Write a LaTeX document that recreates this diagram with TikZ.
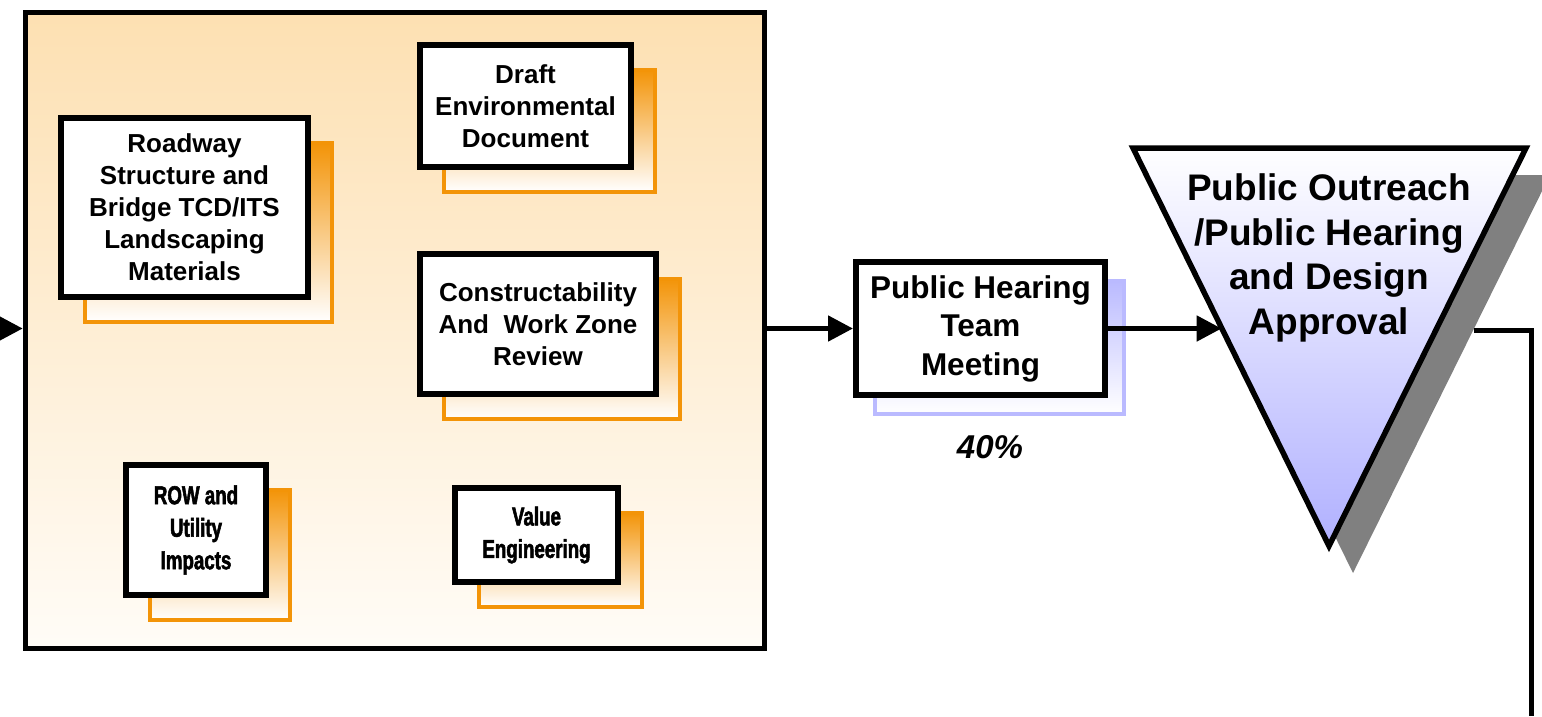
\documentclass[tikz,border=0pt]{standalone}
\usepackage{fontspec}
\setmainfont{Liberation Sans}
\newfontfamily\narrowfont[FakeStretch=0.72,BoldFeatures={FakeBold=2}]{Liberation Sans}
\usetikzlibrary{arrows.meta,shadows,calc}
\definecolor{panel_top}{RGB}{253,224,178}
\definecolor{panel_bottom}{RGB}{255,252,247}
\definecolor{shadow_orange}{RGB}{243,148,8}
\definecolor{shadow_blue}{RGB}{186,186,255}
\definecolor{tri_blue}{RGB}{176,176,255}
\definecolor{tri_gray}{RGB}{128,128,128}
\begin{document}
\begin{tikzpicture}[x=1pt,y=-1pt]
        \tikzstyle{box_style} = [draw=black,line width=6pt,fill=white,inner sep=0pt,align=center,font=\bfseries\fontsize{26}{32}\selectfont]
        \tikzstyle{narrow_style} = [box_style,font=\narrowfont\bfseries\fontsize{26}{32.5}\selectfont]
        \tikzstyle{orange_shadow} = [general shadow={shadow xshift=24pt,shadow yshift=-25pt,draw=shadow_orange,line width=4pt,top color=shadow_orange,bottom color=white}]
        \tikzstyle{blue_shadow} = [general shadow={shadow xshift=19pt,shadow yshift=-19pt,draw=shadow_blue,line width=4.5pt,top color=shadow_blue,bottom color=white}]
        \tikzstyle{conn} = [line width=5pt,-{Triangle[length=25pt,width=25pt]}]
        \useasboundingbox (0,0) rectangle (1542,716);

        % design work panel
        \node[draw=black,line width=5.5pt,top color=panel_top,bottom color=panel_bottom,minimum width=739pt,minimum height=636pt,inner sep=0pt] (panel) at (395,330.5) {};
        \node[box_style,orange_shadow,minimum width=247pt,minimum height=179pt] (roadway) at (184.5,207.5) {Roadway\\Structure and\\Bridge TCD/ITS\\Landscaping\\Materials};
        \node[box_style,orange_shadow,minimum width=211pt,minimum height=122pt] (draft) at (525.5,106) {Draft\\Environmental\\Document};
        \node[box_style,orange_shadow,minimum width=236pt,minimum height=140pt] (review) at (538,324) {Constructability\\And\ \ Work Zone\\Review};
        \node[narrow_style,orange_shadow,minimum width=140pt,minimum height=130pt] (row) at (196,530) {ROW and\\Utility\\Impacts};
        \node[narrow_style,orange_shadow,minimum width=163pt,minimum height=94pt] (value) at (536.5,535) {Value\\Engineering};

        % hearing
        \node[box_style,blue_shadow,font=\bfseries\fontsize{31.5}{38.5}\selectfont,minimum width=249pt,minimum height=133pt] (hearing) at (980.5,328.5) {Public Hearing\\Team\\Meeting};
        \node[font=\bfseries\itshape\fontsize{33}{40}\selectfont] (percent) at (990,447) {40\%};

        % approval triangle
        \coordinate (tri_nw) at (1133,148);
        \coordinate (tri_ne) at (1526,148);
        \coordinate (tri_s) at (1329,546);
        \fill[tri_gray] ($(tri_nw)+(24,27)$) -- ($(tri_ne)+(24,27)$) -- ($(tri_s)+(24,27)$) -- cycle;
        \draw[line width=5.5pt,top color=white,bottom color=tri_blue] (tri_nw) -- (tri_ne) -- (tri_s) -- cycle;
        \node[font=\bfseries\fontsize{37}{44.7}\selectfont,align=center] (approval) at (1329,258) {Public Outreach\\/Public Hearing\\and Design\\Approval};

        % connectors
        \coordinate (feed) at (0,328.5);
        \coordinate (tri_in) at ($(tri_nw)!0.452!(tri_s)$);
        \coordinate (tri_out) at (1474,330);
        \coordinate (down_end) at (1531,716);
        \draw[conn] (feed) -- (feed -| panel.west);
        \draw[conn] (panel.east |- hearing.west) -- (hearing.west);
        \draw[conn] (hearing.east) -- (hearing.east -| tri_in);
        \draw[line width=5pt] (tri_out) -- (tri_out -| down_end) -- (down_end);
\end{tikzpicture}
\end{document}
